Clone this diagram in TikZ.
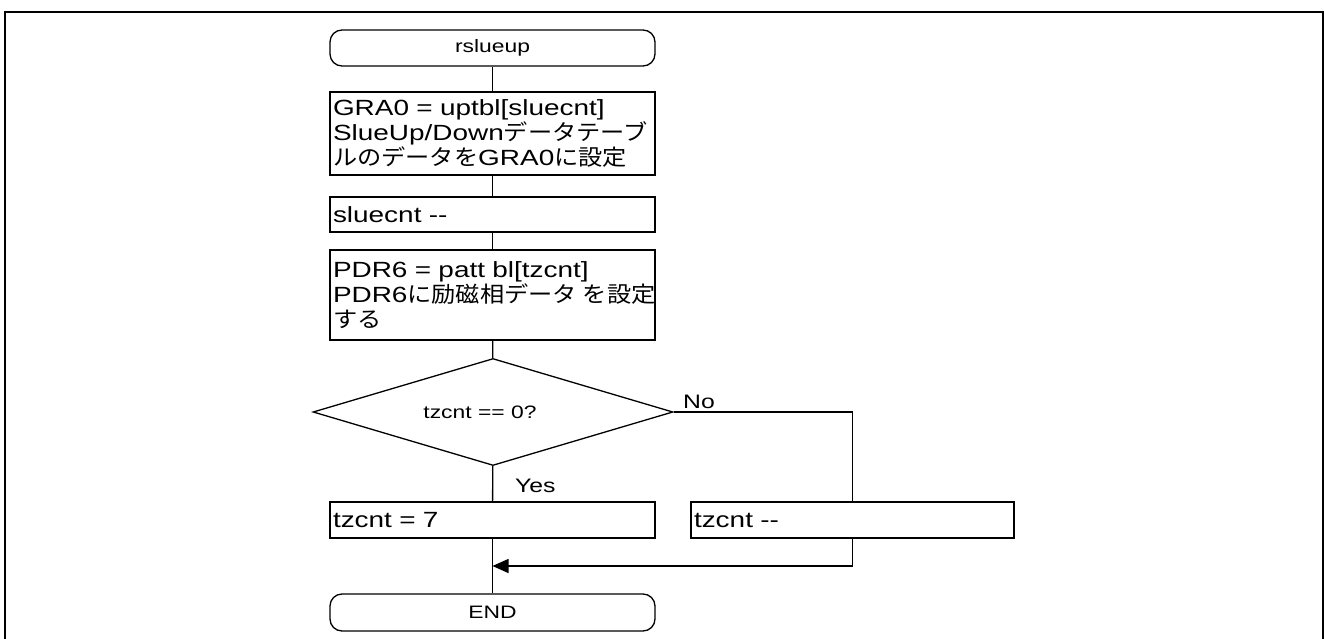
\documentclass[tikz,border=0pt]{standalone}
\usepackage{fontspec}
\usetikzlibrary{shapes.geometric,arrows.meta}
\setmainfont[FakeStretch=1.27]{Liberation Sans}
\newfontfamily\jp[FakeStretch=1.1]{Noto Sans CJK JP}
\newcommand{\J}[1]{{\jp #1}}
\newcommand{\boxfont}{\fontsize{22}{25}\selectfont}
\newcommand{\smallfont}{\fontsize{18}{22}\selectfont}
\newcommand{\ynfont}{\fontsize{19.5}{23}\selectfont}
\begin{document}
\begin{tikzpicture}[x=1pt,y=-1pt,
  box/.style={draw, line width=1.3pt, text width=319pt, inner xsep=3pt, inner ysep=0pt, align=left, font=\boxfont},
  term/.style={draw, line width=1.3pt, rounded corners=12pt, minimum width=325pt, minimum height=36pt, font=\smallfont, inner sep=0pt},
  dec/.style={draw, diamond, line width=1.3pt, minimum width=360pt, minimum height=107pt, aspect=3.36, inner sep=0pt, font=\smallfont},
  flow/.style={line width=1.3pt},
  lbl/.style={font=\ynfont, inner sep=0pt}]
\useasboundingbox (0,0) rectangle (1324,639);
\draw[line width=2pt] (5,639) -- (5,12) -- (1323,12) -- (1323,639);

\node[term] (s) at (492.5,48) {rslueup};
\node[box, minimum height=83pt] (b1) at (492.5,133.5) {GRA0 = uptbl[sluecnt]\\SlueUp/Down\J{データテーブ}\\\J{ルのデータを}GRA0\J{に設定}};
\node[box, minimum height=35pt] (b2) at (492.5,214.5) {sluecnt -{}-};
\node[box, minimum height=90pt] (b3) at (492.5,295) {PDR6 = patt bl[tzcnt]\\PDR6\J{に励磁相データ}\kern6pt\J{を設定}\\\J{する}};
\node[dec] (d) at (493,412) {tzcnt == 0?\kern26pt};
\node[box, minimum height=36pt] (y) at (492.5,520) {tzcnt = 7};
\node[box, text width=317pt, minimum height=36pt] (n) at (852.5,520) {tzcnt -{}-};
\node[term, minimum height=37pt] (e) at (492.5,612.5) {END};
\node[lbl, anchor=base west] (no) at (683,408) {No};
\node[lbl, anchor=base west] (yes) at (515,492) {Yes};
\coordinate (j) at (492.5,566);

\draw[flow] (s) -- (b1);
\draw[flow] (b1) -- (b2);
\draw[flow] (b2) -- (b3);
\draw[flow] (b3) -- (d);
\draw[flow] (d) -- (y);
\draw[flow] (y) -- (e);
\draw[flow] (d.east) -| (n.north);
\draw[flow,-{Triangle[length=16pt,width=14pt]}] (n.south) |- (j);
\end{tikzpicture}
\end{document}
